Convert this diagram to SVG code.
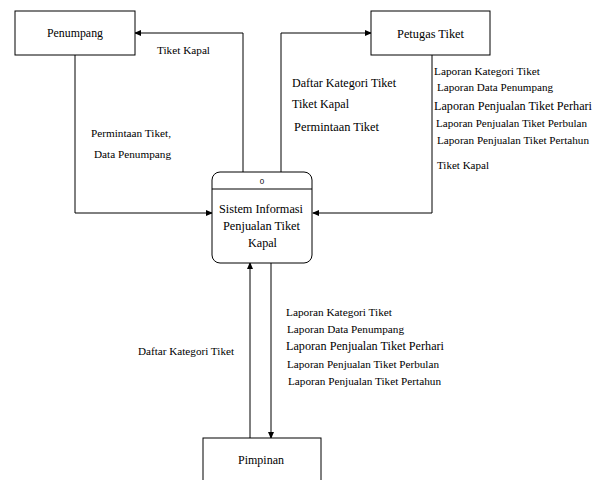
<svg xmlns="http://www.w3.org/2000/svg" width="601" height="480" viewBox="0 0 601 480">
<style>
.box{fill:#fff;stroke:#000;stroke-width:1}
.ln{fill:none;stroke:#000;stroke-width:1}
.t{font-size:11px}
.b{font-size:12.5px}
.n{font-size:12px;text-anchor:middle}
.z{font-size:8px;text-anchor:middle}
</style>
<defs>
<marker id="ah" markerWidth="7" markerHeight="6" refX="6" refY="3" orient="auto" markerUnits="userSpaceOnUse">
<path d="M0,0 L7,3 L0,6 Z" fill="#000"/>
</marker>
</defs>
<rect width="601" height="480" fill="#fff"/>
<g id="connectors">
<polyline class="ln" points="243,172 243,33 135,33" marker-end="url(#ah)"/>
<polyline class="ln" points="281,172 281,33 371,33" marker-end="url(#ah)"/>
<polyline class="ln" points="75,55 75,213 212,213" marker-end="url(#ah)"/>
<polyline class="ln" points="432,55 432,213 313,213" marker-end="url(#ah)"/>
<line class="ln" x1="250" y1="438" x2="250" y2="263" marker-end="url(#ah)"/>
<line class="ln" x1="271" y1="263" x2="271" y2="438" marker-end="url(#ah)"/>
</g>
<g font-family="Liberation Serif, Times New Roman, serif" fill="#000">
<g id="labels">
<text class="t" x="157" y="54" textLength="53" lengthAdjust="spacingAndGlyphs">Tiket Kapal</text>
<text class="t" x="91" y="137" textLength="80" lengthAdjust="spacingAndGlyphs">Permintaan Tiket,</text>
<text class="t" x="94" y="158" textLength="77" lengthAdjust="spacingAndGlyphs">Data Penumpang</text>
<text class="b" x="292" y="87" textLength="104" lengthAdjust="spacingAndGlyphs">Daftar Kategori Tiket</text>
<text class="b" x="292" y="108" textLength="57" lengthAdjust="spacingAndGlyphs">Tiket Kapal</text>
<text class="b" x="294" y="131" textLength="85" lengthAdjust="spacingAndGlyphs">Permintaan Tiket</text>
<text class="t" x="434" y="75" textLength="106" lengthAdjust="spacingAndGlyphs">Laporan Kategori Tiket</text>
<text class="t" x="437" y="91" textLength="116" lengthAdjust="spacingAndGlyphs">Laporan Data Penumpang</text>
<text class="b" x="434" y="110" textLength="158" lengthAdjust="spacingAndGlyphs">Laporan Penjualan Tiket Perhari</text>
<text class="t" x="436" y="127" textLength="151" lengthAdjust="spacingAndGlyphs">Laporan Penjualan Tiket Perbulan</text>
<text class="t" x="437" y="144" textLength="152" lengthAdjust="spacingAndGlyphs">Laporan Penjualan Tiket Pertahun</text>
<text class="t" x="437" y="169" textLength="52" lengthAdjust="spacingAndGlyphs">Tiket Kapal</text>
<text class="t" x="138" y="355" textLength="96" lengthAdjust="spacingAndGlyphs">Daftar Kategori Tiket</text>
<text class="t" x="286" y="316" textLength="106" lengthAdjust="spacingAndGlyphs">Laporan Kategori Tiket</text>
<text class="t" x="287" y="333" textLength="117" lengthAdjust="spacingAndGlyphs">Laporan Data Penumpang</text>
<text class="b" x="286" y="350" textLength="158" lengthAdjust="spacingAndGlyphs">Laporan Penjualan Tiket Perhari</text>
<text class="t" x="287" y="368" textLength="152" lengthAdjust="spacingAndGlyphs">Laporan Penjualan Tiket Perbulan</text>
<text class="t" x="288" y="385" textLength="153" lengthAdjust="spacingAndGlyphs">Laporan Penjualan Tiket Pertahun</text>
</g>
<g id="penumpang">
<rect class="box" x="15" y="11" width="120" height="44"/>
<text class="n" x="75" y="37" textLength="56" lengthAdjust="spacingAndGlyphs">Penumpang</text>
</g>
<g id="petugas">
<rect class="box" x="371" y="11" width="119" height="44"/>
<text class="n" x="430.5" y="38" textLength="67" lengthAdjust="spacingAndGlyphs">Petugas Tiket</text>
</g>
<g id="proses">
<rect class="box" x="212" y="172" width="100" height="91" rx="8" ry="8"/>
<line class="ln" x1="212" y1="189" x2="312" y2="189"/>
<text class="z" x="262" y="184" font-family="Liberation Sans, Arial, sans-serif">0</text>
<text class="n" x="261" y="213" textLength="84" lengthAdjust="spacingAndGlyphs">Sistem Informasi</text>
<text class="n" x="261.5" y="230" textLength="77" lengthAdjust="spacingAndGlyphs">Penjualan Tiket</text>
<text class="n" x="262.5" y="247" textLength="29" lengthAdjust="spacingAndGlyphs">Kapal</text>
</g>
<g id="pimpinan">
<rect class="box" x="203" y="438" width="118" height="50"/>
<text class="n" x="261" y="464" textLength="46" lengthAdjust="spacingAndGlyphs">Pimpinan</text>
</g>
</g>
</svg>
